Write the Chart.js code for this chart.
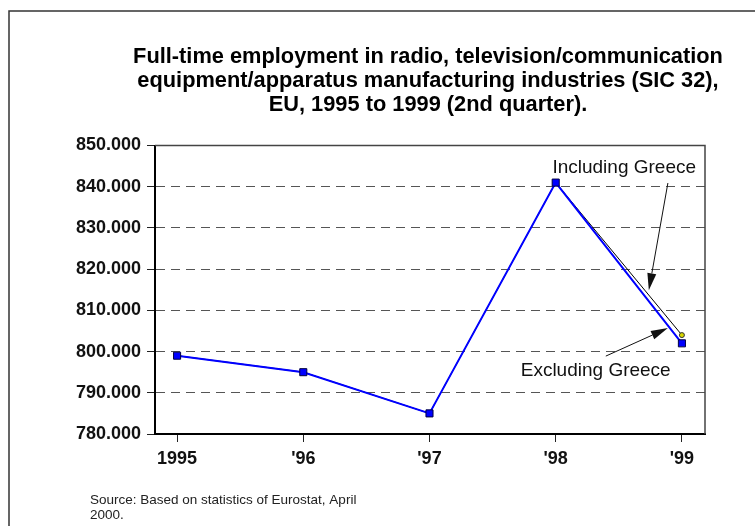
<!DOCTYPE html>
<html>
<head>
<meta charset="utf-8">
<script src="https://cdn.jsdelivr.net/npm/chart.js@4/dist/chart.umd.min.js"></script>
<style>
  html, body { margin: 0; padding: 0; background: #fff; }
  #wrap { width: 755px; height: 526px; position: relative; }
</style>
</head>
<body>
<div id="wrap"><canvas id="c" width="755" height="526"></canvas></div>
<script>
// Years on the horizontal axis and how they are labelled
const years = [1995, 1996, 1997, 1998, 1999];
const yearLabels = ['1995', "'96", "'97", "'98", "'99"];

// Full-time employment (persons), 2nd quarter of each year
const excludingGreece = [799000, 795000, 785000, 841000, 802000];
const includingGreece = [799000, 795000, 785000, 841000, 804000];

// Value axis ticks
const valueTicks = [780000, 790000, 800000, 810000, 820000, 830000, 840000, 850000];

const titleLines = [
  'Full-time employment in radio, television/communication',
  'equipment/apparatus manufacturing industries (SIC 32),',
  'EU, 1995 to 1999 (2nd quarter).'
];

const FONT = "'Liberation Sans', Arial, Helvetica, sans-serif";

function thousands(v) {
  return String(Math.round(v)).replace(/\B(?=(\d{3})+(?!\d))/g, '.');
}

// Page frame, title, chart-area outline, call-out labels with arrows and the source note
const decorations = {
  id: 'decorations',
  beforeDraw(chart, args, opts) {
    const ctx = chart.ctx;
    ctx.save();
    ctx.fillStyle = '#fff';
    ctx.fillRect(0, 0, chart.width, chart.height);
    ctx.strokeStyle = '#333';
    ctx.lineWidth = 1.5;
    ctx.beginPath();
    ctx.moveTo(9, chart.height + 2);
    ctx.lineTo(9, 11);
    ctx.lineTo(chart.width + 2, 11);
    ctx.stroke();
    // title
    ctx.fillStyle = '#000';
    ctx.font = 'bold 21.8px ' + FONT;
    ctx.textAlign = 'center';
    ctx.textBaseline = 'alphabetic';
    opts.title.forEach((line, i) => ctx.fillText(line, 428, 63 + i * 24));
    ctx.restore();
  },
  beforeDatasetsDraw(chart) {
    const {ctx, chartArea: a} = chart;
    ctx.save();
    ctx.strokeStyle = '#444';
    ctx.lineWidth = 1.5;
    ctx.beginPath();
    ctx.moveTo(a.left, a.top);
    ctx.lineTo(a.right, a.top);
    ctx.lineTo(a.right, a.bottom);
    ctx.stroke();
    ctx.restore();
  },
  afterDatasetsDraw(chart, args, opts) {
    const ctx = chart.ctx;
    const xs = chart.scales.x, ys = chart.scales.y;
    const px = (x) => xs.getPixelForValue(x);
    const py = (y) => ys.getPixelForValue(y);
    ctx.save();
    ctx.fillStyle = '#111';
    ctx.strokeStyle = '#111';
    ctx.font = '19px ' + FONT;
    ctx.textAlign = 'center';
    ctx.textBaseline = 'alphabetic';
    for (const c of opts.callouts) {
      ctx.fillText(c.text, px(c.at[0]), py(c.at[1]));
      const x1 = px(c.from[0]), y1 = py(c.from[1]);
      const x2 = px(c.to[0]), y2 = py(c.to[1]);
      const ang = Math.atan2(y2 - y1, x2 - x1);
      const len = 17, hw = 4.5;
      const bx = x2 - len * Math.cos(ang), by = y2 - len * Math.sin(ang);
      ctx.lineWidth = 1;
      ctx.beginPath();
      ctx.moveTo(x1, y1);
      ctx.lineTo(bx, by);
      ctx.stroke();
      ctx.beginPath();
      ctx.moveTo(x2, y2);
      ctx.lineTo(bx + hw * Math.sin(ang), by - hw * Math.cos(ang));
      ctx.lineTo(bx - hw * Math.sin(ang), by + hw * Math.cos(ang));
      ctx.closePath();
      ctx.fill();
    }
    // source note
    ctx.fillStyle = '#222';
    ctx.font = '13.5px ' + FONT;
    ctx.textAlign = 'left';
    opts.source.forEach((line, i) => ctx.fillText(line, 90, 504 + i * 14.5));
    ctx.restore();
  }
};

new Chart(document.getElementById('c'), {
  type: 'line',
  data: {
    datasets: [
      {
        label: 'Excluding Greece',
        data: years.map((y, i) => ({x: y, y: excludingGreece[i]})),
        borderColor: '#0000ff',
        borderWidth: 2,
        pointStyle: 'rect',
        pointRadius: 5,
        pointBackgroundColor: '#0000ff',
        pointBorderColor: '#000040',
        pointBorderWidth: 1,
        tension: 0
      },
      {
        label: 'Including Greece',
        data: years.map((y, i) => ({x: y, y: includingGreece[i]})),
        borderColor: '#000',
        borderWidth: 1,
        pointStyle: 'circle',
        pointRadius: 2.5,
        pointBackgroundColor: '#d8d800',
        pointBorderColor: '#333',
        pointBorderWidth: 1,
        tension: 0
      }
    ]
  },
  options: {
    responsive: false,
    animation: false,
    events: [],
    layout: { padding: { left: 0, right: 50, top: 145.5, bottom: 52 } },
    plugins: {
      legend: { display: false },
      tooltip: { enabled: false },
      title: { display: false },
      decorations: {
        title: titleLines,
        callouts: [
          { text: 'Including Greece', at: [1998.543, 843300], from: [1998.889, 840900], to: [1998.738, 814900] },
          { text: 'Excluding Greece', at: [1998.317, 794000], from: [1998.397, 798900], to: [1998.889, 805700] }
        ],
        source: ['Source: Based on statistics of Eurostat, April', '2000.']
      }
    },
    scales: {
      x: {
        type: 'linear',
        min: 1994.825,
        max: 1999.183,
        afterBuildTicks: (s) => { s.ticks = years.map((v) => ({value: v})); },
        afterFit: (s) => { s.height = 40; },
        ticks: {
          callback: (v) => yearLabels[years.indexOf(v)],
          color: '#111',
          font: { family: FONT, size: 18, weight: 'bold' },
          padding: 6,
          maxRotation: 0,
          autoSkip: false
        },
        grid: { drawOnChartArea: false, drawTicks: true, tickLength: 8, tickColor: '#222', tickWidth: 1 },
        border: { display: true, color: '#000', width: 2 }
      },
      y: {
        min: 780000,
        max: 850000,
        afterBuildTicks: (s) => { s.ticks = valueTicks.map((v) => ({value: v})); },
        afterFit: (s) => { s.width = 155; },
        ticks: {
          callback: (v) => thousands(v),
          color: '#111',
          font: { family: FONT, size: 18, weight: 'bold' },
          padding: 6,
          autoSkip: false
        },
        grid: {
          color: (c) => (c.tick && (c.tick.value === 780000 || c.tick.value === 850000)) ? 'rgba(0,0,0,0)' : '#555',
          lineWidth: 1,
          drawTicks: true,
          tickLength: 8,
          tickColor: '#222',
          tickWidth: 1
        },
        border: { display: true, color: '#000', width: 2, dash: [9, 6] }
      }
    }
  },
  plugins: [decorations]
});
</script>
</body>
</html>
